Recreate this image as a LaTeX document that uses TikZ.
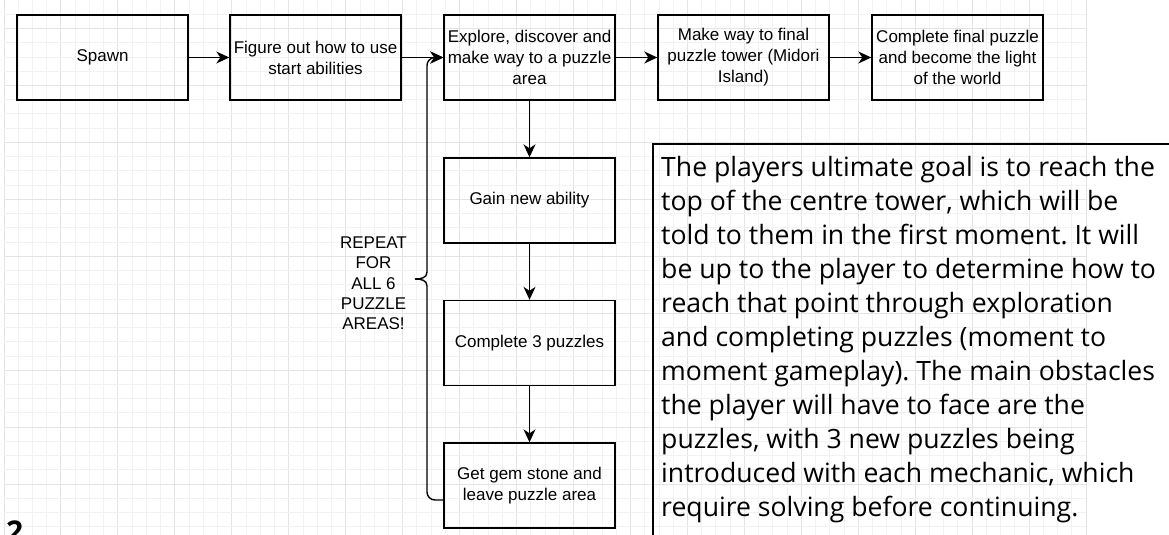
\documentclass[tikz,border=0pt]{standalone}
\usepackage{fontspec}
\setmainfont{Liberation Sans}
\newfontfamily\descfont{Open Sans}
\usetikzlibrary{arrows.meta}
\definecolor{gridminor}{HTML}{F2F2F2}
\definecolor{gridmajor}{HTML}{E4E4E4}
\frenchspacing
\tikzset{
  box/.style={draw, line width=1.4pt, minimum width=171pt, minimum height=85pt, inner sep=1pt, align=center, font=\fontsize{17}{21}\selectfont},
  conn/.style={line width=1.4pt, -{Stealth[length=13pt, width=12pt, inset=4pt]}},
  plain/.style={line width=1.4pt}
}
\begin{document}
\begin{tikzpicture}[x=1pt, y=-1pt]
\useasboundingbox (0,0) rectangle (1169,535);
\clip (0,0) rectangle (1169,535);
\fill[white] (0,0) rectangle (1169,535);
% grid
\foreach \i in {0,...,76} {
  \pgfmathsetmacro\xx{4+14.237*\i}
  \pgfmathtruncatemacro\m{mod(\i,4)}
  \ifnum\m=0
    \draw[gridmajor, line width=0.9pt] (\xx,0) -- (\xx,535);
  \else
    \draw[gridminor, line width=0.8pt] (\xx,0) -- (\xx,535);
  \fi
}
\foreach \j in {1,...,38} {
  \pgfmathsetmacro\yy{14.237*\j}
  \pgfmathtruncatemacro\m{mod(\j,4)}
  \ifnum\m=2
    \draw[gridmajor, line width=0.9pt] (4,\yy) -- (1086,\yy);
  \else
    \draw[gridminor, line width=0.8pt] (4,\yy) -- (1086,\yy);
  \fi
}
% boxes
\node[box] (spawn)   at (102.5,57.5) {Spawn};
\node[box] (figure)  at (315.5,57.5) {Figure out how to use\\start abilities};
\node[box] (explore) at (529.5,57.5) {Explore, discover and\\make way to a puzzle\\area};
\node[box] (makeway) at (743.5,57.5) {Make way to final\\puzzle tower (Midori\\Island)};
\node[box] (final)   at (957.5,57.5) {Complete final puzzle\\and become the light\\of the world};
\node[box] (gain)    at (529.5,200.5) {Gain new ability};
\node[box] (three)   at (529.5,343) {Complete 3 puzzles};
\node[box] (gem)     at (529.5,485.5) {Get gem stone and\\leave puzzle area};
% connectors
\draw[conn] (spawn) -- (figure);
\draw[conn] (figure) -- (explore);
\draw[conn] (explore) -- (makeway);
\draw[conn] (makeway) -- (final);
\draw[conn] (explore) -- (gain);
\draw[conn] (gain) -- (three);
\draw[conn] (three) -- (gem);
% loop with brace
\coordinate (loopout) at ([yshift=-14.5pt]gem.west);
\draw[plain, rounded corners=8pt] (loopout) -| (427,286);
\draw[plain] (427,286) .. controls (427,280) and (421,279) .. (415,279);
\draw[plain] (415,279) .. controls (421,279) and (427,278) .. (427,272);
\draw[conn, rounded corners=8pt] (427,272) |- (explore.west);
\node[align=center, font=\fontsize{17}{20.3}\selectfont] (repeat) at (373.5,283.5) {REPEAT\\FOR\\ALL 6\\PUZZLE\\AREAS!};
% description
\node[draw, line width=2pt, anchor=north west, minimum width=540pt, minimum height=420pt] (descbox) at (652,143) {};
\node[anchor=north west, align=left, inner sep=0pt, font=\descfont\fontsize{26.6}{34}\selectfont] (desc) at (661,156) {The players ultimate goal is to reach the\\top of the centre tower, which will be\\told to them in the first moment. It will\\be up to the player to determine how to\\reach that point through exploration\\and completing puzzles (moment to\\moment gameplay). The main obstacles\\the player will have to face are the\\puzzles, with 3 new puzzles being\\introduced with each mechanic, which\\require solving before continuing.};
\node[anchor=north west, inner sep=0pt, font=\descfont\bfseries\fontsize{30}{34}\selectfont] (two) at (6,521) {2};
\end{tikzpicture}
\end{document}
